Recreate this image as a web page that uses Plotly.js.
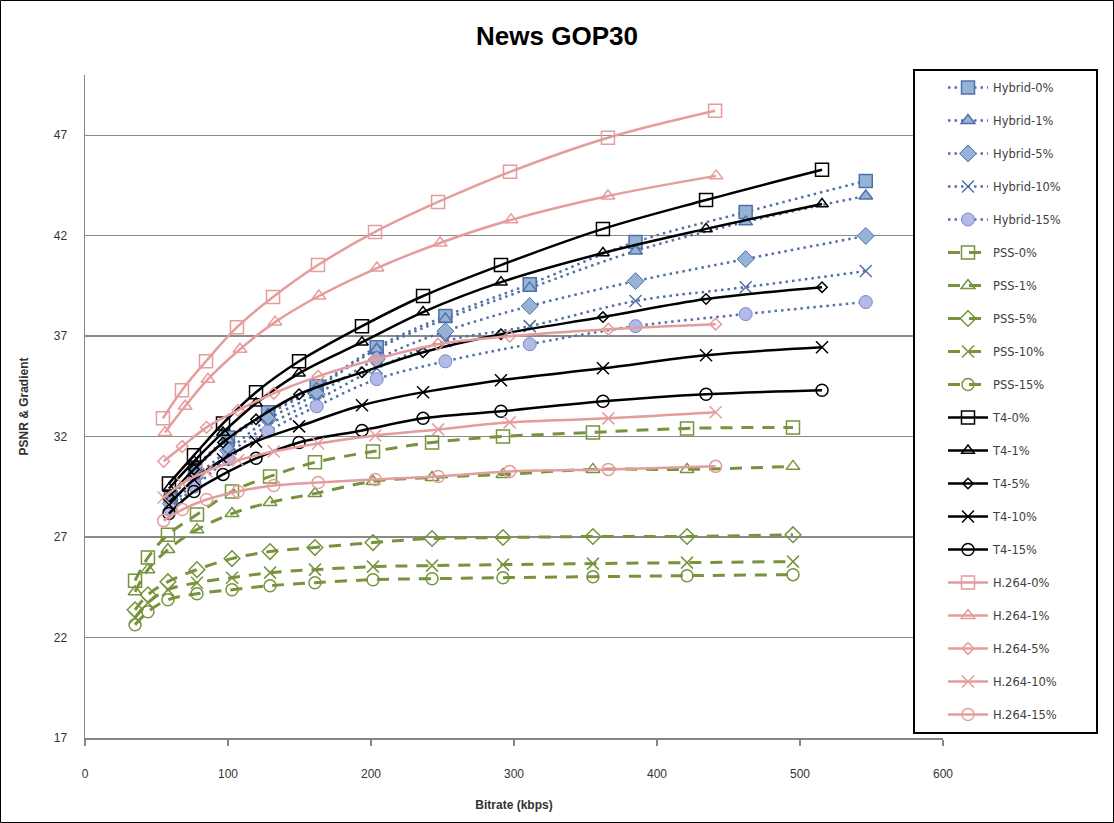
<!DOCTYPE html>
<html>
<head>
<meta charset="utf-8">
<script src="https://cdn.plot.ly/plotly-3.0.1.min.js"></script>
<style>
html,body{margin:0;padding:0;background:#fff;}
#chart{width:1114px;height:823px;}
</style>
</head>
<body>
<div id="chart"></div>
<script>
// ---- Data (bitrate in kbps, PSNR in dB) ----
const seriesNames = ["Hybrid-0%","Hybrid-1%","Hybrid-5%","Hybrid-10%","Hybrid-15%",
  "PSS-0%","PSS-1%","PSS-5%","PSS-10%","PSS-15%",
  "T4-0%","T4-1%","T4-5%","T4-10%","T4-15%",
  "H.264-0%","H.264-1%","H.264-5%","H.264-10%","H.264-15%"];

const hybridX = [60, 77, 100, 128, 162, 204, 252, 311, 385, 462, 546];
const hybrid0 = [28.97, 30.47, 31.96, 33.21, 34.51, 36.45, 38.0, 39.59, 41.69, 43.18, 44.73];
const hybrid1 = [28.87, 30.37, 31.86, 33.11, 34.41, 36.35, 37.85, 39.39, 41.24, 42.69, 43.98];
const hybrid5 = [28.67, 29.97, 31.31, 32.86, 34.11, 35.85, 37.25, 38.5, 39.74, 40.84, 41.99];
const hybrid10 = [28.52, 29.77, 31.11, 32.56, 33.81, 35.40, 36.75, 37.5, 38.75, 39.44, 40.24];
const hybrid15 = [28.37, 29.52, 30.87, 32.26, 33.51, 34.86, 35.75, 36.60, 37.50, 38.10, 38.70];

const pssX = [35, 44, 58, 78.3, 102.8, 129.4, 160.8, 201.4, 242.7, 292.3, 355.2, 421, 495.1];
const pss0 = [24.83, 25.98, 27.12, 28.12, 29.27, 30.02, 30.72, 31.26, 31.71, 32.01, 32.21, 32.41, 32.46];
const pss1 = [24.28, 25.38, 26.38, 27.37, 28.17, 28.72, 29.17, 29.77, 29.97, 30.12, 30.37, 30.37, 30.52];
const pss5 = [23.38, 24.13, 24.78, 25.38, 25.93, 26.28, 26.48, 26.73, 26.93, 26.98, 27.03, 27.03, 27.12];
const pss10 = [22.99, 23.73, 24.38, 24.73, 24.98, 25.23, 25.38, 25.53, 25.58, 25.63, 25.68, 25.73, 25.78];
const pss15 = [22.64, 23.28, 23.88, 24.18, 24.38, 24.58, 24.73, 24.88, 24.93, 24.98, 25.03, 25.08, 25.13];

const t4X = [58.7, 76.2, 96.5, 119.6, 149.7, 193.7, 236.4, 290.9, 362.2, 434.3, 515.4];
const t40 = [29.67, 31.07, 32.66, 34.21, 35.75, 37.50, 39.0, 40.54, 42.34, 43.78, 45.28];
const t41 = [29.42, 30.77, 32.21, 33.66, 35.15, 36.70, 38.20, 39.69, 41.14, 42.34, 43.58];
const t45 = [29.02, 30.37, 31.71, 32.86, 34.11, 35.2, 36.2, 37.1, 37.95, 38.85, 39.44];
const t410 = [28.62, 29.87, 30.87, 31.76, 32.51, 33.56, 34.21, 34.81, 35.40, 36.05, 36.45];
const t415 = [28.17, 29.27, 30.12, 30.92, 31.71, 32.31, 32.91, 33.26, 33.76, 34.11, 34.31];

const h264X0 = [54.5, 67.8, 84.6, 106.3, 131.5, 162.9, 202.8, 246.9, 297.2, 365.7, 440.6];
const h264X1 = [56, 70, 86, 108.4, 132.9, 163.6, 204.2, 248.3, 297.9, 365.7, 441.3];
const h264X = [55, 68, 85, 107, 132, 163, 203, 247, 297, 366, 441];
const h2640 = [32.91, 34.31, 35.75, 37.45, 38.95, 40.54, 42.19, 43.68, 45.18, 46.88, 48.22];
const h2641 = [32.21, 33.51, 34.86, 36.35, 37.70, 39.0, 40.39, 41.64, 42.79, 43.98, 44.98];
const h2645 = [30.77, 31.51, 32.46, 33.31, 34.16, 35.0, 35.85, 36.6, 37.0, 37.35, 37.6];
const h26410 = [28.97, 29.67, 30.27, 30.82, 31.26, 31.66, 32.06, 32.36, 32.71, 32.91, 33.21];
const h26415 = [27.82, 28.37, 28.87, 29.27, 29.57, 29.72, 29.87, 30.02, 30.27, 30.37, 30.52];

const yTicks = [17, 22, 27, 32, 37, 42, 47];
const xTicks = [0, 100, 200, 300, 400, 500, 600];

// ---- Styles ----
const BLUE_LINE = "#5270A8", BLUE_FILL = "#95B3D7", LAV_FILL = "#B3BAE8", LAV_LINE = "#7C86C6";
const GREEN = "#77933C", PINK = "#E59C9C", BLACK = "#000000";

function tr(i, x, y, line, marker) {
  return {
    type: "scatter", mode: "lines+markers", name: seriesNames[i],
    legendgroup: "g" + i, x: x, y: y,
    line: Object.assign({shape: "spline", smoothing: 1}, line),
    marker: marker, cliponaxis: false
  };
}
const hybLine = {color: BLUE_LINE, width: 2.5, dash: "2.5px,4px"};
const pssLine = {color: GREEN, width: 3, dash: "12px,9px"};
const t4Line = {color: BLACK, width: 2.5};
const hLine = {color: PINK, width: 2.5};

const traces = [
  tr(0, hybridX, hybrid0, hybLine, {symbol: "square", size: 13, color: BLUE_FILL, line: {color: BLUE_LINE, width: 1.5}}),
  tr(1, hybridX, hybrid1, hybLine, {symbol: "triangle-up", size: 12, color: BLUE_FILL, line: {color: BLUE_LINE, width: 1.5}}),
  tr(2, hybridX, hybrid5, hybLine, {symbol: "diamond", size: 13, color: BLUE_FILL, line: {color: BLUE_LINE, width: 1}}),
  tr(3, hybridX, hybrid10, hybLine, {symbol: "x-thin-open", size: 12, color: BLUE_LINE, line: {color: BLUE_LINE, width: 1.5}}),
  tr(4, hybridX, hybrid15, hybLine, {symbol: "circle", size: 13, color: LAV_FILL, line: {color: LAV_LINE, width: 1}}),

  tr(5, pssX, pss0, pssLine, {symbol: "square-open", size: 13, color: GREEN, line: {width: 1.5}}),
  tr(6, pssX, pss1, pssLine, {symbol: "triangle-up-open", size: 12, color: GREEN, line: {width: 1.5}}),
  tr(7, pssX, pss5, pssLine, {symbol: "diamond-open", size: 12, color: GREEN, line: {width: 1.5}}),
  tr(8, pssX, pss10, pssLine, {symbol: "x-thin-open", size: 12, color: GREEN, line: {width: 1.5}}),
  tr(9, pssX, pss15, pssLine, {symbol: "circle-open", size: 12, color: GREEN, line: {width: 1.5}}),

  tr(10, t4X, t40, t4Line, {symbol: "square-open", size: 13, color: BLACK, line: {width: 1.5}}),
  tr(11, t4X, t41, t4Line, {symbol: "triangle-up-open", size: 11, color: BLACK, line: {width: 1.5}}),
  tr(12, t4X, t45, t4Line, {symbol: "diamond-open", size: 8, color: BLACK, line: {width: 1.5}}),
  tr(13, t4X, t410, t4Line, {symbol: "x-thin-open", size: 12, color: BLACK, line: {width: 1.5}}),
  tr(14, t4X, t415, t4Line, {symbol: "circle-open", size: 12, color: BLACK, line: {width: 1.5}}),

  tr(15, h264X0, h2640, hLine, {symbol: "square-open", size: 13, color: PINK, line: {width: 1.5}}),
  tr(16, h264X1, h2641, hLine, {symbol: "triangle-up-open", size: 12, color: PINK, line: {width: 1.5}}),
  tr(17, h264X, h2645, hLine, {symbol: "diamond-open", size: 9, color: PINK, line: {width: 1.5}}),
  tr(18, h264X, h26410, hLine, {symbol: "x-thin-open", size: 12, color: PINK, line: {width: 1.5}}),
  tr(19, h264X, h26415, hLine, {symbol: "circle-open", size: 12, color: PINK, line: {width: 1.5}})
];

// plot area: x px 85..943, y px 75..738
const L = 85, R = 943, T = 75, B = 738, W = 1114, H = 823;
const px2x = p => (p - L) / (R - L);
const py2y = p => (B - p) / (B - T);

const layout = {
  width: W, height: H,
  margin: {l: L, r: W - R, t: T, b: H - B, pad: 0},
  paper_bgcolor: "#ffffff", plot_bgcolor: "#ffffff",
  showlegend: true,
  title: {text: "<b>News GOP30</b>", x: 0.5, xref: "container", xanchor: "center",
          y: 1 - 36 / H, yref: "container", yanchor: "middle",
          font: {family: "Liberation Sans, Arial, sans-serif", size: 26, color: "#000"}},
  xaxis: {
    range: [0, 600], tickvals: xTicks, ticktext: xTicks.map(String),
    showgrid: false, zeroline: false, showline: true, linecolor: "#868686", linewidth: 1.5,
    ticks: "outside", ticklen: 6, tickcolor: "#868686", tickwidth: 1.5,
    ticklabelstandoff: 18,
    tickfont: {family: "Liberation Sans, Arial, sans-serif", size: 12, color: "#333"},
    title: {text: "<b>Bitrate (kbps)</b>", standoff: 20,
            font: {family: "Liberation Sans, Arial, sans-serif", size: 12, color: "#333"}},
    automargin: false
  },
  yaxis: {
    range: [17, 50], tickvals: yTicks, ticktext: yTicks.map(String),
    showgrid: true, gridcolor: "#8A8A8A", gridwidth: 1.5,
    zeroline: false, showline: true, linecolor: "#868686", linewidth: 1.5,
    ticks: "", ticklabelstandoff: 14,
    tickfont: {family: "Liberation Sans, Arial, sans-serif", size: 12, color: "#333"},
    title: {text: "<b>PSNR & Gradient</b>", standoff: 22,
            font: {family: "Liberation Sans, Arial, sans-serif", size: 12, color: "#333"}},
    automargin: false
  },
  legend: {
    x: px2x(943), y: py2y(73), xanchor: "left", yanchor: "top",
    bgcolor: "rgba(0,0,0,0)", borderwidth: 0, maxheight: 800,
    tracegroupgap: 14, itemsizing: "trace", itemwidth: 40,
    font: {family: "DejaVu Sans, sans-serif", size: 11.5, color: "#404040"}
  },
  shapes: [
    // legend box (covers gridlines)
    {type: "rect", xref: "paper", yref: "paper", layer: "above",
     x0: px2x(914), x1: px2x(1097), y0: py2y(733), y1: py2y(70),
     fillcolor: "#ffffff", line: {color: "#000", width: 2}},
    // chart border
    {type: "rect", xref: "paper", yref: "paper", layer: "above",
     x0: px2x(0.5), x1: px2x(1113.5), y0: py2y(822.5), y1: py2y(0.5),
     fillcolor: "rgba(0,0,0,0)", line: {color: "#000", width: 1}}
  ]
};

Plotly.newPlot("chart", traces, layout, {displayModeBar: false, staticPlot: true});
</script>
</body>
</html>
